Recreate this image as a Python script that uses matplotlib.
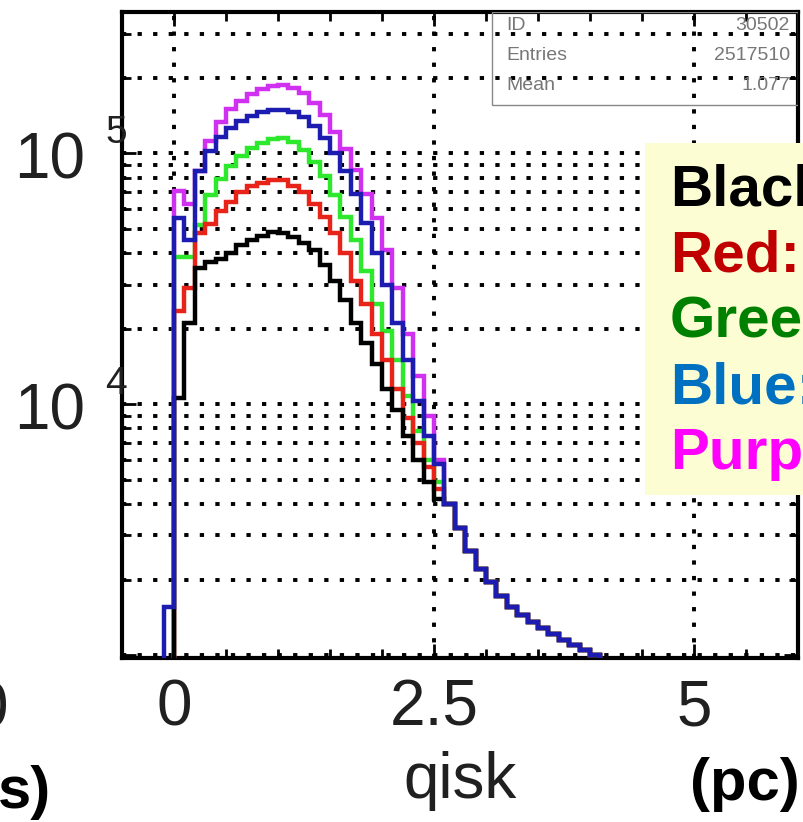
import numpy as np
import matplotlib
matplotlib.use("Agg")
import matplotlib.pyplot as plt
from matplotlib import transforms
from matplotlib.patches import Rectangle
from matplotlib.ticker import LogLocator, MultipleLocator, FixedLocator, NullFormatter

plt.rcParams['font.family'] = ['Liberation Sans', 'DejaVu Sans']

# histogram binning: width 0.1, first edge at -0.1
bin_lo = -0.1
bin_width = 0.1

# counts per bin, bin centres -0.05 ... 2.55
black = [700, 10600, 21000, 35000, 37000, 38000, 40000, 43000, 45000, 47000,
         48500, 48000, 46500, 44000, 41000, 36000, 31000, 26000, 21000, 17500,
         14500, 11500, 9500, 7500, 6000, 4900, 4200]
red = [800, 23500, 29000, 48000, 52500, 59000, 64000, 70000, 74000, 76000,
       78000, 78000, 74000, 70000, 63000, 56000, 48000, 40000, 31000, 25000,
       19000, 15000, 11500, 8800, 7000, 5600, 4600]
green = [850, 38500, 38500, 52000, 68000, 79000, 89000, 98000, 105000, 110000,
         114000, 115000, 111000, 103000, 92000, 81000, 68000, 56000, 45000, 34000,
         25000, 19500, 15000, 10800, 7800, 6000, 4900]
blue = [1550, 55000, 45000, 85000, 102000, 116000, 126000, 134000, 141000, 146000,
        149000, 149000, 146000, 140000, 129000, 115000, 100000, 85000, 69000, 53000,
        40000, 30000, 21000, 15000, 10300, 7500, 5800]
purple = [900, 71000, 63000, 85000, 112000, 133000, 150000, 162000, 173000, 180000,
          186000, 187000, 183000, 174000, 159000, 142000, 122000, 104000, 86000, 69000,
          55000, 41000, 29000, 19000, 13000, 9000, 6000]

# common tail, bin centres 2.65 ... 4.35 (all five curves lie on top of each other)
tail = [4000, 3200, 2600, 2200, 1950, 1720, 1560, 1450, 1360, 1280,
        1210, 1150, 1100, 1050, 1000, 950, 900, 850]

# drawing order: blue ends up on top
hist_sets = [purple, green, red, black, blue]
hist_colors = ['#d030f0', '#2ee82e', '#e8241a', '#000000', '#1c1cb0']

x_ticks = [0, 2.5, 5]
x_tick_labels = ['0', '2.5', '5']
y_label_vals = [1e4, 1e5]

legend_names = ['Black:', 'Red:', 'Green:', 'Blue:', 'Purple:']
legend_colors = ['#000000', '#c00000', '#008000', '#0070c0', '#ff00ff']

stats_names = ['ID', 'Entries', 'Mean']
stats_vals = ['30502', '2517510', '1.077']

W, H = 804, 822
AX_L, AX_R, AX_T, AX_B = 122, 798, 12, 658

fig = plt.figure(figsize=(W / 100, H / 100), dpi=100)
ax = fig.add_axes([AX_L / W, 1 - AX_B / H, (AX_R - AX_L) / W, (AX_B - AX_T) / H])

n_bins = len(black) + len(tail)
edges = bin_lo + bin_width * np.arange(n_bins + 1)
for vals, col in zip(hist_sets, hist_colors):
    ax.stairs(vals + tail, edges, baseline=1.0, color=col, linewidth=3.2, zorder=3)

ax.set_yscale('log')
ax.set_xlim(-0.5, 6.0)
ax.set_ylim(973, 3.66e5)

ax.xaxis.set_major_locator(FixedLocator(x_ticks))
ax.set_xticklabels(x_tick_labels)
ax.xaxis.set_minor_locator(MultipleLocator(0.5))
ax.yaxis.set_major_locator(LogLocator(base=10, subs=(1.0,)))
ax.yaxis.set_minor_locator(LogLocator(base=10, subs=np.arange(2, 10)))
ax.yaxis.set_minor_formatter(NullFormatter())

dots = (0, (1.1, 2.9))
ax.grid(True, which='major', axis='x', color='black', linestyle=dots, linewidth=2.8)
ax.grid(True, which='both', axis='y', color='black', linestyle=dots, linewidth=2.8)
ax.set_axisbelow(True)

ax.tick_params(which='both', direction='in', top=True, right=True, width=2, color='black')
ax.tick_params(which='major', length=10)
ax.tick_params(which='minor', length=6.5)
ax.tick_params(axis='x', labelsize=46, pad=15, labelcolor='#202020')
ax.tick_params(axis='y', labelleft=False)
for s in ax.spines.values():
    s.set_linewidth(3)

ax.set_xlabel('qisk', fontsize=46, color='#202020', labelpad=9)

# ROOT style "10  ^n" labels
ytr = ax.get_yaxis_transform()
base_tr = transforms.offset_copy(ytr, fig=fig, x=0, y=-25, units='dots')
exp_tr = transforms.offset_copy(ytr, fig=fig, x=0, y=10, units='dots')
for v in y_label_vals:
    ax.text((85 - AX_L) / (AX_R - AX_L), v, '10', ha='right', va='baseline',
            fontsize=46, color='#202020', transform=base_tr)
    ax.text((105 - AX_L) / (AX_R - AX_L), v, str(int(round(np.log10(v)))), ha='left',
            va='baseline', fontsize=28, color='#202020', transform=exp_tr)

# stats box
sx0 = (492 - AX_L) / (AX_R - AX_L)
sy0 = (AX_B - 105) / (AX_B - AX_T)
ax.add_patch(Rectangle((sx0, sy0), 1 - sx0, 1 - sy0, transform=ax.transAxes,
                       fill=False, edgecolor='#888888', linewidth=1, zorder=4))
for i, (nm, vl) in enumerate(zip(stats_names, stats_vals)):
    yy = (AX_B - (25 + 30 * i)) / (AX_B - AX_T)
    ax.text((506 - AX_L) / (AX_R - AX_L), yy, nm, ha='left', va='center',
            fontsize=14, color='#777777', transform=ax.transAxes, zorder=5)
    ax.text((790 - AX_L) / (AX_R - AX_L), yy, vl, ha='right', va='center',
            fontsize=14, color='#777777', transform=ax.transAxes, zorder=5)

# yellow legend panel running off the right edge
fig.add_artist(Rectangle((645 / W, 1 - 495 / H), 200 / W, 352 / H,
                         transform=fig.transFigure, facecolor='#fdfdd4',
                         edgecolor='none', zorder=5))
for i, (nm, col) in enumerate(zip(legend_names, legend_colors)):
    fig.text(670 / W, 1 - (205 + 66 * i) / H, nm, ha='left', va='baseline',
             fontsize=42, fontweight='bold', color=col, zorder=6)

# bits of neighbouring panels
fig.text(8 / W, 1 - 727 / H, '0', ha='right', va='baseline', fontsize=46, color='#202020')
fig.text(-2 / W, 1 - 808 / H, 's)', ha='left', va='baseline', fontsize=43, fontweight='bold')
fig.text(690 / W, 1 - 800 / H, '(pc)', ha='left', va='baseline', fontsize=43, fontweight='bold')

fig.savefig('out.png', dpi=100)
